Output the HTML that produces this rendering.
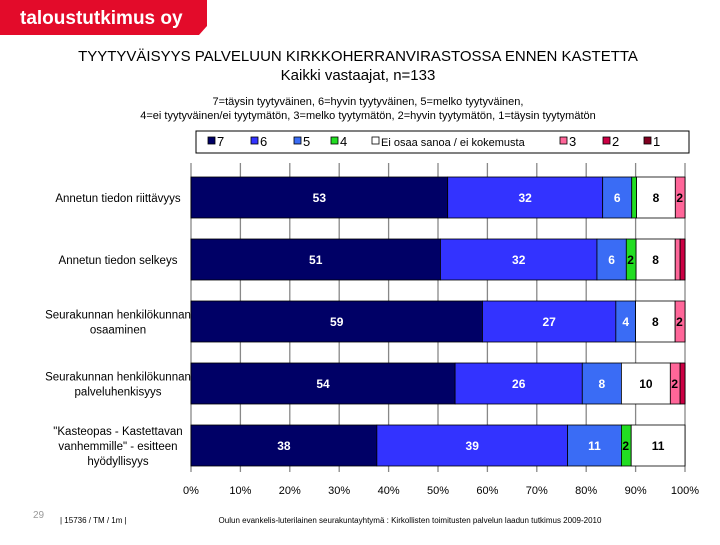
<!DOCTYPE html>
<html><head><meta charset="utf-8"><style>
body{margin:0;background:#fff;}
svg text{font-family:"Liberation Sans",sans-serif;}
</style></head><body>
<svg id="c" width="720" height="540" xmlns="http://www.w3.org/2000/svg">
<polygon points="0,0 207,0 207,26 199,35 0,35" fill="#e30b2a"/>
<text x="20" y="24" fill="#fff" font-size="19" font-weight="bold">taloustutkimus oy</text>
<text x="358" y="61" text-anchor="middle" font-size="15">TYYTYVÄISYYS PALVELUUN KIRKKOHERRANVIRASTOSSA ENNEN KASTETTA</text>
<text x="358" y="80" text-anchor="middle" font-size="15">Kaikki  vastaajat, n=133</text>
<text x="368" y="105" text-anchor="middle" font-size="11">7=täysin tyytyväinen, 6=hyvin tyytyväinen, 5=melko tyytyväinen,</text>
<text x="368" y="119" text-anchor="middle" font-size="11">4=ei tyytyväinen/ei tyytymätön, 3=melko tyytymätön, 2=hyvin tyytymätön, 1=täysin tyytymätön</text>
<rect x="196" y="131" width="493" height="22" fill="#fff" stroke="#000"/>
<g id="legend"></g>
<g id="grid"></g>
<g id="bars"></g>
<g id="cats"></g>
<g id="ticks"></g>
<text x="33" y="518" font-size="10" fill="#999">29</text>
<text x="60" y="523" font-size="8">| 15736 / TM / 1m |</text>
<text x="410" y="523" text-anchor="middle" font-size="8">Oulun evankelis-luterilainen seurakuntayhtymä : Kirkollisten toimitusten palvelun laadun tutkimus 2009-2010</text>
</svg>
<script>
const seriesNames=["7","6","5","4","Ei osaa sanoa / ei kokemusta","3","2","1"];
const categories=[["Annetun tiedon riittävyys"],["Annetun tiedon selkeys"],["Seurakunnan henkilökunnan","osaaminen"],["Seurakunnan henkilökunnan","palveluhenkisyys"],["\"Kasteopas - Kastettavan","vanhemmille\" - esitteen","hyödyllisyys"]];
const row1=[53,32,6,1,8,2,0,0];
const row2=[51,32,6,2,8,1,1,0];
const row3=[59,27,4,0,8,2,0,0];
const row4=[54,26,8,0,10,2,1,0];
const row5=[38,39,11,2,11,0,0,0];
const rows=[row1,row2,row3,row4,row5];
const tickLabels=["0%","10%","20%","30%","40%","50%","60%","70%","80%","90%","100%"];
const colors=["#000066","#3333ff","#3a6cf5","#22dd22","#ffffff","#ff6699","#cc0044","#800020"];
const textCol=["#fff","#fff","#fff","#000","#000","#000","#000","#000"];
const NS="http://www.w3.org/2000/svg";
const x0=191,x1=685,yTop=163,yBot=472,band=62,barH=41;
const xs=p=>x0+(x1-x0)*p/100;
const yb=i=>yTop+14+i*band;
function mk(tag,attrs,parent,txt){const e=document.createElementNS(NS,tag);for(const k in attrs)e.setAttribute(k,attrs[k]);if(txt!==undefined)e.textContent=txt;document.getElementById(parent).appendChild(e);return e;}
for(let i=0;i<tickLabels.length;i++){
 const g=mk('line',{x1:xs(i*10),x2:xs(i*10),y1:yTop,y2:yBot,stroke:'#888','stroke-width':1.3},'grid');
 
 
 const t=mk('text',{x:xs(i*10),y:494,'text-anchor':'middle','font-size':11},'ticks',tickLabels[i]);
 
 
}
const lx=[208,251,294,331,372,560,603,644];
seriesNames.forEach((n,i)=>{
 const r=mk('rect',{x:lx[i],y:137,width:7,height:7,fill:colors[i],stroke:'#000','stroke-width':0.8},'legend');
 
 
 const t=mk('text',{x:lx[i]+9,y:146,'font-size':i==4?11:13},'legend',n);
 
 
});
rows.forEach((row,ri)=>{
 const tot=row.reduce((a,b)=>a+b,0);
 let cum=0;
 row.forEach((v,si)=>{
  if(v<=0)return;
  const a=xs(cum/tot*100),b=xs((cum+v)/tot*100);cum+=v;
  const r=mk('rect',{x:a,y:yb(ri),width:b-a,height:barH,fill:colors[si],stroke:'#000','stroke-width':0.8},'bars');
  
  
  if(b-a<6)return;
  const t=mk('text',{x:(a+b)/2,y:yb(ri)+25,'text-anchor':'middle','font-size':12,'font-weight':'bold',fill:textCol[si]},'bars',String(v));
  
  
  if(b-a<12){t.setAttribute('x',a+1);t.setAttribute('text-anchor','start');}
 });
 const lines=categories[ri];
 lines.forEach((l,li)=>{
  const t=mk('text',{x:118,y:yb(ri)+25+(li-(lines.length-1)/2)*15,'text-anchor':'middle','font-size':11.5},'cats',l);
  
  
 });
});
</script>
</body></html>
